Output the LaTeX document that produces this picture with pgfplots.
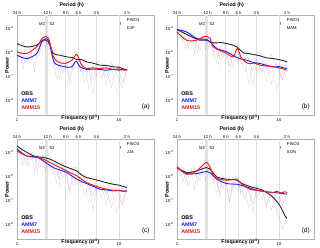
\documentclass[border=0pt]{standalone}
\usepackage{fontspec}
\setmainfont{Liberation Sans}
\usepackage{pgfplots}
\pgfplotsset{compat=1.18}
\usepackage{pgfplotstable}
\definecolor{cobs}{RGB}{40,40,40}
\definecolor{cm7}{RGB}{30,30,240}
\definecolor{cm15}{RGB}{240,25,25}

\pgfplotstableread{
f obs m7 m15
1.00 -4.18 -5.75 -4.72
1.07 -4.97 -5.05 -5.30
1.14 -4.16 -6.45 -4.85
1.22 -4.85 -5.32 -5.90
1.30 -5.63 -5.75 -4.70
1.39 -4.30 -5.05 -5.05
1.48 -4.16 -6.65 -4.45
1.58 -4.88 -4.80 -5.70
1.68 -5.05 -4.70 -3.95
1.79 -3.84 -3.75 -4.28
1.90 -3.90 -4.73 -3.48
2.00 -4.40 -3.80 -3.94
2.12 -4.15 -4.90 -4.15
2.26 -5.75 -5.20 -6.25
2.42 -4.97 -7.20 -5.40
2.60 -6.54 -5.90 -7.33
2.80 -5.00 -6.78 -5.70
3.02 -5.78 -5.92 -6.42
3.27 -7.25 -7.82 -5.48
3.55 -5.33 -5.90 -6.50
3.86 -5.31 -6.35 -5.00
4.20 -6.58 -5.95 -6.60
4.60 -5.57 -7.50 -5.95
5.05 -6.35 -6.24 -8.06
5.55 -7.33 -8.45 -6.16
6.10 -5.72 -6.15 -6.96
6.75 -5.90 -7.16 -6.08
7.50 -7.15 -6.27 -7.70
8.40 -5.90 -7.98 -6.22
9.50 -6.88 -6.18 -8.35
10.8 -7.96 -7.50 -6.18
12.0 -6.24 -6.30 -7.30
}\rawa
\pgfplotstableread{
f obs m7 m15
1.00 -3.01 -3.61 -3.06
1.07 -3.85 -2.87 -3.80
1.14 -3.08 -4.23 -3.52
1.22 -3.80 -3.10 -4.75
1.30 -4.70 -3.72 -3.72
1.39 -3.52 -3.30 -4.23
1.48 -3.52 -5.15 -3.77
1.58 -4.42 -3.67 -5.18
1.68 -4.90 -4.10 -3.65
1.79 -3.80 -3.62 -4.12
1.90 -3.90 -4.74 -3.37
2.00 -4.33 -3.80 -3.82
2.12 -3.82 -4.58 -3.70
2.26 -4.92 -4.10 -5.40
2.42 -4.03 -5.86 -4.48
2.60 -5.55 -4.57 -6.40
2.80 -3.96 -5.46 -4.80
3.02 -4.68 -4.65 -5.59
3.27 -6.15 -6.70 -4.92
3.55 -4.22 -5.07 -6.35
3.86 -4.27 -5.94 -4.50
4.20 -5.75 -5.23 -6.05
4.60 -4.88 -6.73 -5.45
5.05 -5.63 -5.51 -7.64
5.55 -6.59 -7.80 -5.78
6.10 -4.96 -5.58 -6.65
6.75 -5.16 -6.67 -5.80
7.50 -6.46 -5.86 -7.45
8.40 -5.22 -7.67 -6.00
9.50 -6.20 -5.96 -8.20
10.8 -7.30 -7.31 -6.10
12.0 -5.61 -6.16 -7.30
}\rawb
\pgfplotstableread{
f obs m7 m15
1.00 -2.37 -3.25 -2.64
1.07 -3.25 -2.62 -3.32
1.14 -2.50 -4.10 -2.95
1.22 -3.25 -3.08 -4.08
1.30 -4.18 -3.63 -3.05
1.39 -3.02 -3.05 -3.59
1.48 -3.02 -4.77 -3.17
1.58 -3.86 -3.20 -4.65
1.68 -4.30 -3.72 -3.30
1.79 -3.23 -3.40 -3.97
1.90 -3.38 -4.62 -3.35
2.00 -3.83 -3.75 -3.85
2.12 -3.29 -4.50 -3.67
2.26 -4.40 -3.97 -4.90
2.42 -3.65 -5.57 -3.85
2.60 -5.28 -4.27 -5.78
2.80 -3.80 -5.15 -4.20
3.02 -4.62 -4.37 -5.03
3.27 -6.13 -6.45 -4.38
3.55 -4.25 -4.85 -5.83
3.86 -4.27 -5.75 -4.72
4.20 -5.68 -5.08 -5.88
4.60 -4.80 -6.65 -5.12
5.05 -5.65 -5.48 -7.30
5.55 -6.64 -7.82 -5.52
6.10 -5.03 -5.68 -6.45
6.75 -5.22 -6.80 -5.67
7.50 -6.55 -5.95 -7.35
8.40 -5.33 -7.70 -5.94
9.50 -6.34 -5.92 -8.09
10.8 -7.45 -7.22 -5.91
12.0 -5.74 -6.02 -7.02
}\rawc
\pgfplotstableread{
f obs m7 m15
1.00 -4.18 -4.78 -3.97
1.07 -5.00 -4.13 -4.70
1.14 -4.22 -5.58 -4.40
1.22 -4.96 -4.55 -5.60
1.30 -5.77 -5.08 -4.50
1.39 -4.43 -4.48 -4.92
1.48 -4.30 -6.18 -4.39
1.58 -5.05 -4.57 -5.72
1.68 -5.35 -4.91 -4.10
1.79 -4.16 -4.36 -4.45
1.90 -4.19 -5.42 -3.58
2.00 -4.62 -4.44 -4.08
2.12 -4.18 -5.15 -4.12
2.26 -5.40 -4.62 -5.70
2.42 -4.80 -6.40 -4.85
2.60 -6.40 -5.15 -6.72
2.80 -4.87 -6.05 -5.08
3.02 -5.64 -5.28 -5.82
3.27 -7.07 -7.22 -5.01
3.55 -5.10 -5.45 -6.28
3.86 -5.03 -6.17 -5.01
4.20 -6.42 -5.45 -6.25
4.60 -5.52 -6.95 -5.52
5.05 -6.32 -5.75 -7.72
5.55 -7.33 -8.07 -5.92
6.10 -5.72 -5.85 -6.78
6.75 -5.94 -6.94 -5.94
7.50 -7.34 -6.09 -7.60
8.40 -6.35 -7.84 -6.15
9.50 -7.70 -6.10 -8.26
10.8 -9.40 -7.45 -6.06
12.0 -8.30 -6.30 -7.16
}\rawd

\tikzset{smline/.style={line width=0.9pt, smooth, tension=0.5},
  rawline/.style={line width=0.3pt, opacity=0.2}}

\newcommand{\panelcontent}[3]{%
  \fill[gray!22] (axis description cs:0.2077,0) rectangle (axis description cs:0.2275,1);
  \draw[gray!25, line width=0.4pt] (axis description cs:0.3554,0) -- (axis description cs:0.3554,1);
  \draw[gray!25, line width=0.4pt] (axis description cs:0.4485,0) -- (axis description cs:0.4485,1);
  \draw[gray!25, line width=0.4pt] (axis description cs:0.5797,0) -- (axis description cs:0.5797,1);
  \draw[gray!25, line width=0.4pt] (axis description cs:0.7449,0) -- (axis description cs:0.7449,1);
  \addplot[rawline, cobs] table[x=f, y=obs] {#1};
  \addplot[rawline, cm7] table[x=f, y=m7] {#1};
  \addplot[rawline, cm15] table[x=f, y=m15] {#1};
  \node[font=\fontsize{4.2}{5}\selectfont, anchor=south, inner sep=0.5pt] at (axis description cs:0,1) {24 h};
  \node[font=\fontsize{4.2}{5}\selectfont, anchor=south, inner sep=0.5pt] at (axis description cs:0.2242,1) {12 h};
  \node[font=\fontsize{4.2}{5}\selectfont, anchor=south, inner sep=0.5pt] at (axis description cs:0.3554,1) {8 h};
  \node[font=\fontsize{4.2}{5}\selectfont, anchor=south, inner sep=0.5pt] at (axis description cs:0.4485,1) {6 h};
  \node[font=\fontsize{4.2}{5}\selectfont, anchor=south, inner sep=0.5pt] at (axis description cs:0.5797,1) {4 h};
  \node[font=\fontsize{4.2}{5}\selectfont, anchor=south, inner sep=0.5pt] at (axis description cs:0.8039,1) {2 h};
  \node[font=\bfseries\fontsize{5.2}{6}\selectfont] at (axis description cs:0.40,1.10) {Period (h)};
  \node[font=\bfseries\fontsize{5.2}{6}\selectfont] at (axis description cs:0.463,-0.03) {Frequency (d\textsuperscript{-1})};
  \node[font=\bfseries\fontsize{5.4}{6}\selectfont, rotate=90] at (axis description cs:-0.073,0.5) {Power};
  \node[font=\fontsize{4.2}{5}\selectfont] at (axis description cs:0.1829,0.9076) {M2};
  \node[font=\fontsize{4.2}{5}\selectfont] at (axis description cs:0.2551,0.9076) {S2};
  \node[font=\fontsize{4.2}{5}\selectfont] at (axis description cs:0.7576,0.9076) {f};
  \node[font=\fontsize{4.2}{5}\selectfont, anchor=west, inner sep=0pt] at (axis description cs:0.8012,0.9484) {FINO3};
  \node[font=\fontsize{4.2}{5}\selectfont, anchor=west, inner sep=0pt] at (axis description cs:0.8012,0.868) {#2};
  \node[font=\bfseries\fontsize{5.4}{6}\selectfont, anchor=west, inner sep=0pt, text=black] at (axis description cs:0.03,0.21) {OBS};
  \node[font=\bfseries\fontsize{5.4}{6}\selectfont, anchor=west, inner sep=0pt, text=cm7] at (axis description cs:0.03,0.14) {AMM7};
  \node[font=\bfseries\fontsize{5.4}{6}\selectfont, anchor=west, inner sep=0pt, text=cm15] at (axis description cs:0.03,0.07) {AMM15};
  \node[font=\fontsize{6.5}{7}\selectfont] at (axis description cs:0.94,0.08) {(#3)};
}

\begin{document}
\begin{tikzpicture}
\path[use as bounding box] (0,0) rectangle (320bp,248bp);

% (a) DJF
\begin{axis}[at={(17bp,133bp)}, anchor=south west,
  scale only axis, width=137bp, height=100bp,
  xmin=0, xmax=1.3424, ymin=-10.23, ymax=-1.9,
  x filter/.expression={log10(x)},
  clip=false,
  axis line style={gray!60, line width=0.4pt},
  xtick={0,1}, xticklabels={1,10},
  ytick={-9,-7,-5,-3},
  yticklabels={10\textsuperscript{-9},10\textsuperscript{-7},10\textsuperscript{-5},10\textsuperscript{-3}},
  major tick length=0pt,
  tick label style={font=\fontsize{4.2}{5}\selectfont}]
\panelcontent{\rawa}{DJF}{a}
\addplot[smline, cobs] coordinates {(1.00,-4.28) (1.24,-4.56) (1.56,-4.42) (1.745,-4.06) (1.95,-4.0) (2.11,-4.42) (2.27,-5.11) (2.64,-5.25) (3.07,-5.39) (3.5,-5.45) (3.85,-5.61) (4.3,-5.62) (4.82,-5.81) (5.5,-5.9) (6.51,-6.08) (7.5,-6.1) (8.79,-6.22) (10,-6.25) (11,-6.4) (12,-6.44)};
\addplot[smline, cm7] coordinates {(1.00,-5.25) (1.24,-5.53) (1.56,-5.11) (1.745,-4.14) (1.925,-3.88) (2.07,-4.14) (2.19,-5.11) (2.36,-5.94) (2.96,-6.22) (3.44,-6.22) (3.79,-5.75) (4.15,-6.22) (4.82,-6.44) (5.5,-6.4) (6.51,-6.44) (7.5,-6.5) (8.79,-6.42) (10,-6.5) (11,-6.42) (12,-6.5)};
\addplot[smline, cm15] coordinates {(1.00,-4.97) (1.24,-5.11) (1.56,-4.56) (1.745,-3.9) (1.88,-3.7) (2.03,-3.82) (2.11,-4.28) (2.27,-5.39) (2.54,-5.81) (2.96,-5.94) (3.44,-5.67) (3.79,-5.19) (3.99,-5.39) (4.31,-6.08) (4.82,-6.36) (5.5,-6.3) (6.51,-6.36) (7.5,-6.3) (8.79,-6.44) (10,-6.38) (11,-6.5) (12,-6.45)};
\end{axis}

% (b) MAM
\begin{axis}[at={(177bp,133bp)}, anchor=south west,
  scale only axis, width=137bp, height=100bp,
  xmin=0, xmax=1.3424, ymin=-10.23, ymax=-1.9,
  x filter/.expression={log10(x)},
  clip=false,
  axis line style={gray!60, line width=0.4pt},
  xtick={0,1}, xticklabels={1,10},
  ytick={-9,-7,-5,-3},
  yticklabels={10\textsuperscript{-9},10\textsuperscript{-7},10\textsuperscript{-5},10\textsuperscript{-3}},
  major tick length=0pt,
  tick label style={font=\fontsize{4.2}{5}\selectfont}]
\panelcontent{\rawb}{MAM}{b}
\addplot[smline, cobs] coordinates {(1.00,-3.11) (1.2,-3.45) (1.39,-3.72) (1.68,-4.0) (1.95,-4.0) (2.27,-4.22) (2.7,-4.2) (3.07,-4.28) (3.57,-4.42) (3.85,-4.56) (4.2,-4.85) (4.47,-5.06) (5.0,-5.1) (5.6,-5.19) (6.5,-5.3) (7.57,-5.47) (8.79,-5.53) (10,-5.62) (11,-5.7) (12,-5.81)};
\addplot[smline, cm7] coordinates {(1.00,-3.11) (1.24,-3.31) (1.56,-3.86) (1.95,-3.94) (2.19,-4.28) (2.45,-4.69) (3.07,-4.97) (3.85,-5.44) (4.82,-5.67) (5.6,-5.85) (6.51,-5.94) (7.6,-6.1) (8.79,-6.22) (10,-6.2) (11,-6.3) (12,-6.36)};
\addplot[smline, cm15] coordinates {(1.00,-3.31) (1.24,-4.0) (1.56,-4.0) (1.88,-3.67) (2.11,-3.86) (2.27,-4.56) (3.07,-5.11) (3.57,-5.39) (3.90,-4.69) (4.31,-5.53) (5.0,-5.94) (5.7,-5.9) (6.51,-6.08) (7.6,-6.15) (8.79,-6.22) (10,-6.3) (11,-6.4) (12,-6.5)};
\end{axis}

% (c) JJA
\begin{axis}[at={(17bp,9bp)}, anchor=south west,
  scale only axis, width=137bp, height=100bp,
  xmin=0, xmax=1.3424, ymin=-10.23, ymax=-1.9,
  x filter/.expression={log10(x)},
  clip=false,
  axis line style={gray!60, line width=0.4pt},
  xtick={0,1}, xticklabels={1,10},
  ytick={-9,-7,-5,-3},
  yticklabels={10\textsuperscript{-9},10\textsuperscript{-7},10\textsuperscript{-5},10\textsuperscript{-3}},
  major tick length=0pt,
  tick label style={font=\fontsize{4.2}{5}\selectfont}]
\panelcontent{\rawc}{JJA}{c}
\addplot[smline, cobs] coordinates {(1.00,-2.47) (1.11,-2.75) (1.45,-3.31) (1.81,-3.44) (2.11,-3.58) (2.64,-4.0) (3.2,-4.3) (3.85,-4.56) (4.3,-4.9) (4.82,-5.11) (5.6,-5.25) (6.51,-5.39) (7.6,-5.55) (8.79,-5.67) (10,-5.75) (11,-5.85) (12,-5.94)};
\addplot[smline, cm7] coordinates {(1.00,-2.75) (1.24,-3.31) (1.56,-3.39) (1.81,-3.72) (2.27,-4.28) (3.07,-4.69) (3.85,-5.25) (4.82,-5.61) (5.6,-5.85) (6.51,-6.08) (7.6,-6.15) (8.79,-6.22) (10,-6.18) (11,-6.25) (12,-6.22)};
\addplot[smline, cm15] coordinates {(1.00,-2.89) (1.24,-3.31) (1.56,-3.44) (1.81,-3.58) (2.27,-4.0) (3.07,-4.56) (3.85,-4.97) (4.82,-5.53) (5.6,-5.75) (6.51,-5.94) (7.6,-6.08) (8.79,-6.17) (10,-6.2) (11,-6.25) (12,-6.22)};
\end{axis}

% (d) SON
\begin{axis}[at={(177bp,9bp)}, anchor=south west,
  scale only axis, width=137bp, height=100bp,
  xmin=0, xmax=1.3424, ymin=-10.23, ymax=-1.9,
  x filter/.expression={log10(x)},
  clip=false,
  axis line style={gray!60, line width=0.4pt},
  xtick={0,1}, xticklabels={1,10},
  ytick={-9,-7,-5,-3},
  yticklabels={10\textsuperscript{-9},10\textsuperscript{-7},10\textsuperscript{-5},10\textsuperscript{-3}},
  major tick length=0pt,
  tick label style={font=\fontsize{4.2}{5}\selectfont}]
\panelcontent{\rawd}{SON}{d}
\addplot[smline, cobs] coordinates {(1.00,-4.28) (1.24,-4.69) (1.56,-4.56) (1.95,-4.28) (2.19,-4.56) (2.45,-5.06) (3.07,-5.25) (3.85,-5.33) (4.47,-5.67) (5.6,-5.94) (6.51,-6.08) (7.57,-6.36) (8.79,-6.78) (10.23,-7.47) (11.45,-8.31) (12,-8.5)};
\addplot[smline, cm7] coordinates {(1.00,-4.28) (1.24,-4.78) (1.56,-4.78) (1.95,-4.61) (2.19,-4.83) (2.45,-5.25) (3.07,-5.61) (3.85,-5.67) (4.47,-5.81) (5.6,-6.08) (6.51,-6.22) (7.6,-6.3) (8.79,-6.36) (10,-6.4) (11,-6.45) (12,-6.5)};
\addplot[smline, cm15] coordinates {(1.00,-4.22) (1.24,-4.83) (1.56,-4.56) (1.925,-3.86) (2.11,-4.28) (2.36,-5.11) (3.07,-5.33) (3.85,-5.25) (4.31,-5.67) (5.2,-6.08) (6.51,-6.22) (7.6,-6.3) (8.79,-6.36) (9.5,-6.25) (10.5,-6.4) (11.3,-6.3) (12,-6.36)};
\end{axis}
\end{tikzpicture}
\end{document}
